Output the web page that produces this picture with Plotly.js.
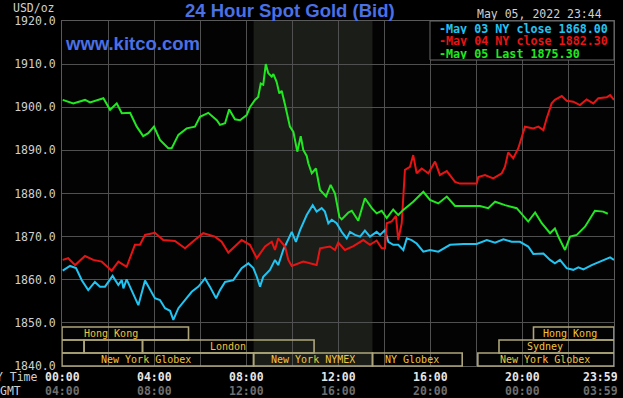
<!DOCTYPE html>
<html><head><meta charset="utf-8">
<script src="https://cdn.plot.ly/plotly-3.0.1.min.js"></script>
<style>html,body{margin:0;padding:0;background:#000;}#chart{width:623px;height:398px;}</style>
</head><body><div id="chart"></div>
<script>
// ---- data (hours in NY time, price USD/oz) ----
const hoursMay03 = [0.03,0.35,0.61,0.86,1.14,1.43,1.65,1.87,2.20,2.45,2.60,2.67,2.81,3.03,3.32,3.61,3.83,4.04,4.26,4.48,4.70,4.84,5.06,5.35,5.64,5.93,6.22,6.43,6.70,6.87,7.09,7.45,7.81,8.10,8.32,8.47,8.61,8.75,9.04,9.26,9.40,9.62,9.99,10.17,10.35,10.64,10.90,11.07,11.29,11.43,11.58,11.73,11.94,12.16,12.38,12.52,12.74,12.96,13.17,13.39,13.68,13.83,14.04,14.19,14.40,14.62,14.84,14.99,15.20,15.42,15.71,16.00,16.36,16.87,17.45,18.03,18.47,18.83,19.19,19.55,19.91,20.27,20.49,20.93,21.22,21.43,21.65,21.94,22.23,22.45,22.67,23.03,23.39,23.83,24.00];
const priceMay03 = [1862.1,1863.2,1862.7,1859.9,1857.6,1859.5,1858.4,1858.4,1860.9,1858.8,1859.9,1858.0,1860.1,1857.6,1854.1,1859.8,1857.6,1855.7,1855.3,1853.4,1852.8,1850.7,1853.4,1855.3,1857.2,1858.4,1860.3,1858.4,1855.7,1857.6,1859.5,1859.9,1862.7,1863.8,1862.7,1860.7,1858.4,1860.7,1862.3,1864.6,1863.4,1866.9,1871.1,1868.8,1871.5,1875.0,1877.3,1875.8,1876.6,1875.8,1873.1,1873.9,1873.1,1871.1,1869.6,1871.1,1870.4,1870.0,1871.4,1870.0,1871.1,1870.4,1871.5,1868.8,1868.1,1868.1,1866.9,1869.6,1869.2,1868.4,1866.5,1866.9,1866.5,1868.1,1868.3,1868.3,1869.2,1868.6,1869.4,1868.8,1868.8,1867.7,1866.0,1866.1,1864.6,1863.8,1864.6,1862.7,1862.3,1862.9,1862.4,1863.4,1864.2,1865.2,1864.6];

const hoursMay04 = [0.03,0.27,0.57,1.00,1.36,1.73,2.16,2.45,2.81,3.03,3.17,3.39,3.61,4.04,4.40,4.91,5.35,5.86,6.14,6.65,6.94,7.23,7.81,8.17,8.47,8.83,9.12,9.26,9.40,9.70,9.84,9.99,10.49,11.07,11.22,11.65,11.87,12.01,12.30,12.67,13.10,13.39,13.68,13.90,14.04,14.12,14.33,14.52,14.62,14.77,14.91,15.13,15.27,15.42,15.64,15.93,16.22,16.43,16.73,17.09,17.30,18.03,18.10,18.39,18.75,19.12,19.26,19.40,19.62,19.84,19.99,20.13,20.49,20.71,20.93,21.07,21.29,21.43,21.73,21.94,22.23,22.52,22.81,23.10,23.32,23.68,23.83,24.00];
const priceMay04 = [1864.6,1865.0,1863.4,1865.5,1864.6,1864.2,1862.1,1864.2,1863.0,1866.1,1868.1,1868.1,1870.4,1870.9,1869.2,1869.0,1867.3,1869.6,1870.8,1870.0,1868.8,1866.3,1869.2,1868.1,1865.0,1867.7,1868.8,1866.9,1869.6,1867.7,1864.6,1863.2,1864.2,1863.4,1867.3,1867.7,1866.9,1868.6,1866.9,1867.8,1869.2,1868.1,1869.1,1867.3,1867.3,1873.1,1873.5,1874.8,1869.2,1873.1,1885.5,1886.2,1888.9,1884.7,1885.8,1884.7,1887.4,1884.3,1885.2,1882.7,1882.3,1882.3,1883.8,1884.3,1883.5,1884.7,1886.2,1889.5,1888.2,1890.5,1893.2,1895.5,1895.1,1895.5,1894.7,1897.4,1900.9,1901.7,1902.6,1901.5,1901.3,1900.5,1901.8,1900.9,1902.1,1902.3,1902.8,1901.7];

const hoursMay05 = [0.03,0.49,1.00,1.22,1.80,2.09,2.38,2.60,2.96,3.25,3.53,3.75,4.00,4.26,4.62,4.77,5.06,5.42,5.78,6.00,6.36,6.73,6.87,7.09,7.27,7.52,7.74,8.03,8.17,8.39,8.53,8.64,8.75,8.86,8.97,9.12,9.19,9.33,9.45,9.55,9.70,9.91,10.06,10.23,10.38,10.49,10.64,10.71,10.86,11.04,11.22,11.48,11.68,11.87,12.06,12.16,12.45,12.60,12.88,13.17,13.47,13.68,13.90,14.12,14.40,14.62,14.84,15.27,15.71,16.00,16.36,16.73,17.09,18.17,18.53,18.83,19.26,19.77,20.27,20.57,20.86,21.22,21.43,21.58,21.87,22.09,22.38,22.74,23.17,23.53,23.73];
const priceMay05 = [1901.7,1900.9,1901.7,1901.1,1902.1,1899.4,1900.9,1898.6,1898.7,1895.5,1893.3,1894.0,1895.5,1892.4,1890.5,1890.5,1893.6,1895.1,1895.5,1897.8,1898.7,1897.0,1895.9,1896.3,1899.5,1897.2,1897.0,1898.2,1900.0,1901.7,1902.4,1905.5,1905.2,1910.0,1907.9,1907.1,1907.7,1905.9,1903.2,1903.8,1900.5,1895.5,1894.3,1889.7,1893.3,1890.1,1888.7,1887.0,1884.7,1885.8,1880.8,1879.3,1882.0,1880.0,1874.6,1874.0,1875.6,1876.0,1873.7,1878.9,1876.6,1875.4,1876.0,1874.3,1876.3,1875.0,1876.2,1878.1,1880.4,1878.5,1877.7,1879.3,1877.1,1877.1,1876.6,1878.1,1877.3,1876.6,1873.5,1875.6,1873.1,1870.8,1871.9,1870.0,1866.9,1870.0,1870.4,1872.3,1876.0,1875.8,1875.3];

const seriesLabels = ['May 03 NY close', 'May 04 NY close', 'May 05 Last'];
const seriesValues = [1868.00, 1882.30, 1875.30];
const seriesColors = ['#22c4f2', '#e81414', '#22e822'];

const nyTimeLabels = ['00:00','04:00','08:00','12:00','16:00','20:00','23:59'];
const gmtLabels    = ['04:00','08:00','12:00','16:00','20:00','00:00','03:59'];
const labelHours   = [0, 4, 8, 12, 16, 20, 24];

const sessionNames  = ['Hong Kong', '', '', 'London', 'New York Globex', 'New York NYMEX', 'NY Globex', 'Hong Kong', 'Sydney', 'New York Globex'];
const sessionRows   = [2, 1, 1, 1, 0, 0, 0, 2, 1, 0];
const sessionStart  = [0, 0, 0.96, 3.5, 0, 8.33, 13.5, 20.5, 19, 18.08];
const sessionEnd    = [5.5, 0.96, 3.5, 10.96, 8.33, 13.5, 17.4, 24, 24, 24];
const sessionLabelH = [2.13, null, null, 7.2, 3.67, 10.9, 15.2, 22.1, 21.0, 21.0];

const nymexStart = 8.33, nymexEnd = 13.5;
const yMin = 1840, yMax = 1920;

// ---- build ----
const mono = 'DejaVu Sans Mono, monospace';
const traces = [
  {x: hoursMay03, y: priceMay03, color: seriesColors[0]},
  {x: hoursMay04, y: priceMay04, color: seriesColors[1]},
  {x: hoursMay05, y: priceMay05, color: seriesColors[2]}
].map(s => ({x: s.x, y: s.y, type: 'scatter', mode: 'lines', line: {color: s.color, width: 2}, hoverinfo: 'skip', showlegend: false}));

const rowH = 13 / 345;
const shapes = [{
  type: 'rect', xref: 'x', yref: 'paper', x0: nymexStart, x1: nymexEnd, y0: 0, y1: 1,
  fillcolor: '#1b1d19', line: {width: 0}, layer: 'below'
}];
const annotations = [];
sessionNames.forEach((n, i) => {
  const r = sessionRows[i];
  shapes.push({type: 'rect', xref: 'x', yref: 'paper', x0: sessionStart[i], x1: sessionEnd[i],
    y0: r * rowH, y1: (r + 1) * rowH, line: {color: '#aea67a', width: 1.6}, fillcolor: 'rgba(0,0,0,0)'});
  if (n) annotations.push({xref: 'x', yref: 'paper', x: sessionLabelH[i], y: (r + 0.5) * rowH, height: 11,
    text: n, showarrow: false, font: {family: mono, size: 10, color: '#f2c43c'}, xanchor: 'center', yanchor: 'middle'});
});
// legend box
shapes.push({type: 'rect', xref: 'paper', yref: 'paper', x0: (430 - 62) / 552, x1: 1, y0: (366 - 60) / 345, y1: 1,
  line: {color: '#6a6a6a', width: 1}, fillcolor: '#000'});

seriesLabels.forEach((l, i) => {
  annotations.push({xref: 'paper', yref: 'paper', x: (437 - 62) / 552, y: 1, yshift: -7.5 - 12.3 * i, height: 11,
    xanchor: 'left', yanchor: 'middle', showarrow: false,
    text: '-' + l + ' ' + seriesValues[i].toFixed(2),
    font: {family: mono, size: 11.7, color: seriesColors[i], weight: 'bold'}});
});

labelHours.forEach((h, i) => {
  const last = i === labelHours.length - 1;
  annotations.push({xref: 'x', yref: 'paper', x: h, y: 0, yshift: -11, height: 12, xanchor: last ? 'right' : 'center', xshift: last ? 6 : 0,
    yanchor: 'middle', showarrow: false, text: nyTimeLabels[i], font: {family: mono, size: 11.5, color: '#e6e6e6', weight: 'bold'}});
  annotations.push({xref: 'x', yref: 'paper', x: h, y: 0, yshift: -25, height: 12, xanchor: last ? 'right' : 'center', xshift: last ? 6 : 0,
    yanchor: 'middle', showarrow: false, text: gmtLabels[i], font: {family: mono, size: 11.5, color: '#6e6e6e', weight: 'bold'}});
});
annotations.push({xref: 'paper', yref: 'paper', x: 0, y: 0, xshift: -22, yshift: -11, height: 12, xanchor: 'right', yanchor: 'middle',
  showarrow: false, text: 'NY Time', font: {family: mono, size: 11.5, color: '#d0d0d0'}});
annotations.push({xref: 'paper', yref: 'paper', x: 0, y: 0, xshift: -39, yshift: -25, height: 12, xanchor: 'right', yanchor: 'middle',
  showarrow: false, text: 'GMT', font: {family: mono, size: 11.5, color: '#d0d0d0'}});
annotations.push({xref: 'paper', yref: 'paper', x: 0, y: 1, xshift: -5, yshift: 13.5, height: 12, xanchor: 'right', yanchor: 'middle',
  showarrow: false, text: 'USD/oz', font: {family: mono, size: 11.5, color: '#d0d0d0'}});
annotations.push({xref: 'paper', yref: 'paper', x: 1, y: 1, xshift: -10, yshift: 7, height: 12, xanchor: 'right', yanchor: 'middle',
  showarrow: false, text: 'May 05, 2022 23:44', font: {family: mono, size: 11.5, color: '#d0d0d0'}});
annotations.push({xref: 'paper', yref: 'paper', x: (290 - 62) / 552, y: 1, yshift: 11, xanchor: 'center', yanchor: 'middle',
  showarrow: false, text: '24 Hour Spot Gold (Bid)', font: {family: 'Liberation Sans, Arial, sans-serif', size: 18.5, color: '#4a70e6', weight: 'bold'}});
annotations.push({xref: 'paper', yref: 'paper', x: 0, y: 1, xshift: 1, yshift: -22, xanchor: 'left', yanchor: 'middle',
  showarrow: false, text: 'www.kitco.com', font: {family: 'Liberation Sans, Arial, sans-serif', size: 18.5, color: '#4a70e6', weight: 'bold'}});

const layout = {
  width: 623, height: 398,
  margin: {l: 62, r: 9, t: 21, b: 32, pad: 0},
  paper_bgcolor: '#000', plot_bgcolor: '#030303',
  showlegend: false,
  xaxis: {range: [0, 24], dtick: 2, tick0: 0, showticklabels: false, ticks: '', showgrid: true, gridcolor: '#505050', gridwidth: 1,
    zeroline: false, showline: true, linecolor: '#5a5a5a', linewidth: 1, mirror: true, fixedrange: true},
  yaxis: {range: [yMin, yMax], dtick: 10, tick0: 1840, tickformat: '.1f', ticks: '', showgrid: true, gridcolor: '#505050', gridwidth: 1,
    zeroline: false, showline: true, linecolor: '#5a5a5a', linewidth: 1, mirror: true, ticklabelstandoff: 3,
    tickfont: {family: mono, size: 11.5, color: '#d0d0d0'}, fixedrange: true},
  shapes: shapes,
  annotations: annotations
};
Plotly.newPlot('chart', traces, layout, {staticPlot: true, displayModeBar: false});
</script>
</body></html>
